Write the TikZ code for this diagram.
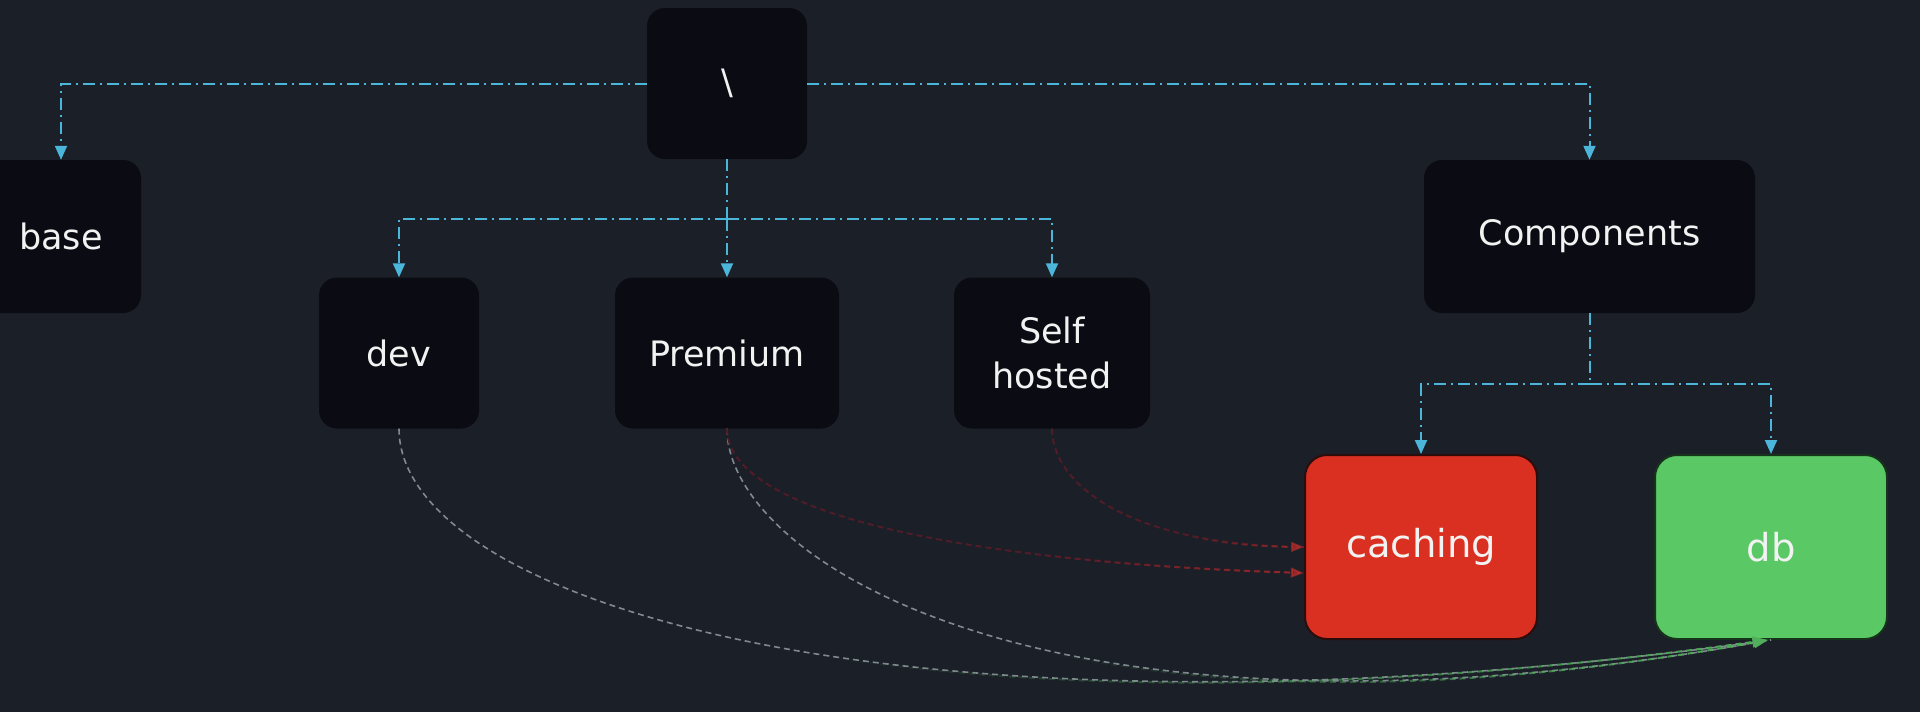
\documentclass[tikz,border=0pt]{standalone}
\usepackage{fontspec}
\setmainfont{DejaVu Sans}
\usetikzlibrary{arrows.meta,fadings}
\definecolor{bg}{RGB}{27,31,39}
\definecolor{nodefill}{RGB}{11,12,19}
\definecolor{treeblue}{RGB}{76,182,218}
\definecolor{cachered}{RGB}{218,48,33}
\definecolor{cacheborder}{RGB}{45,12,12}
\definecolor{dbgreen}{RGB}{91,200,102}
\definecolor{dbborder}{RGB}{22,52,28}
\definecolor{linegray}{RGB}{128,137,144}
\definecolor{linegreen}{RGB}{80,175,90}
\definecolor{dimred}{RGB}{80,28,40}
\definecolor{brightred}{RGB}{225,50,45}
\definecolor{txt}{RGB}{242,242,242}

\pgfdeclarehorizontalshading{latefadeshade}{100bp}{color(0bp)=(black); color(40bp)=(black); color(75bp)=(white); color(100bp)=(white)}
\pgfdeclarefading{latefade}{\pgfuseshading{latefadeshade}}
\pgfdeclarehorizontalshading{redfadeshade}{100bp}{color(0bp)=(black); color(50bp)=(black); color(100bp)=(white)}
\pgfdeclarefading{redfade}{\pgfuseshading{redfadeshade}}

\tikzset{
 box/.style={rectangle, rounded corners=18pt, fill=nodefill, text=txt, inner sep=0pt,
   font=\fontsize{35}{45}\selectfont, align=center},
 compbox/.style={rectangle, rounded corners=22pt, text=txt, inner sep=0pt, line width=2pt,
   font=\fontsize{38.5}{46}\selectfont, minimum width=232pt, minimum height=184pt},
 treeline/.style={draw=treeblue, line width=2pt, dash pattern=on 12pt off 5pt on 2pt off 5pt},
 tree/.style={treeline, -{Triangle[length=14pt,width=12pt]}},
 graycurve/.style={draw=linegray, line width=1.6pt, dash pattern=on 6pt off 4pt},
 greencurve/.style={draw=linegreen, line width=2pt, dash pattern=on 6pt off 4pt,
   path fading=latefade, -{Triangle[length=14pt,width=11pt]}},
 dimcurve/.style={draw=dimred, line width=2pt, dash pattern=on 6pt off 4pt},
 redcurve/.style={draw=brightred, line width=2pt, dash pattern=on 6pt off 4pt,
   path fading=redfade, -{Triangle[length=13pt,width=10pt]}},
}

\begin{document}
\begin{tikzpicture}[x=1pt,y=-1pt]
\useasboundingbox (0,0) rectangle (1920,712);
\fill[bg] (0,0) rectangle (1920,712);

\node[box, minimum width=160pt, minimum height=151pt] (root) at (727,83.5) {\textbackslash};
\node[box, minimum width=160pt, minimum height=153pt] (base) at (61,236.5) {base};
\node[box, minimum width=331pt, minimum height=153pt] (comp) at (1589.5,236.5) {Components};
\node[box, minimum width=160pt, minimum height=151pt] (dev) at (399,353) {dev};
\node[box, minimum width=224pt, minimum height=151pt] (premium) at (727,353) {Premium};
\node[box, minimum width=196pt, minimum height=151pt] (self) at (1052,353) {Self\\hosted};
\node[compbox, fill=cachered, draw=cacheborder] (caching) at (1421,547) {caching};
\node[compbox, fill=dbgreen, draw=dbborder] (db) at (1771,547) {db};

\coordinate (j1) at (727,219);
\coordinate (j2) at (1589.5,384);

\draw[tree] (root.west) -| (base.north);
\draw[tree] (root.east) -| (comp.north);
\draw[treeline] (root.south) -- (j1);
\draw[tree] (j1) -| (dev.north);
\draw[tree] (j1) -- (premium.north);
\draw[tree] (j1) -| (self.north);
\draw[treeline] (comp.south) -- (j2);
\draw[tree] (j2) -| (caching.north);
\draw[tree] (j2) -| (db.north);

\draw[graycurve] (dev.south) .. controls (399,600) and (900,760) .. (db.south);
\draw[greencurve] (dev.south) .. controls (399,600) and (900,760) .. (db.south);
\draw[graycurve] (premium.south) .. controls (727,560) and (1050,770) .. (db.south);
\draw[greencurve] (premium.south) .. controls (727,560) and (1050,770) .. (db.south);

\draw[dimcurve] (premium.south) .. controls (727,500) and (900,560) .. ([yshift=-26pt]caching.west);
\draw[redcurve] (premium.south) .. controls (727,500) and (900,560) .. ([yshift=-26pt]caching.west);
\draw[dimcurve] (self.south) .. controls (1052,480) and (1120,545) .. (caching.west);
\draw[redcurve] (self.south) .. controls (1052,480) and (1120,545) .. (caching.west);
\end{tikzpicture}
\end{document}
